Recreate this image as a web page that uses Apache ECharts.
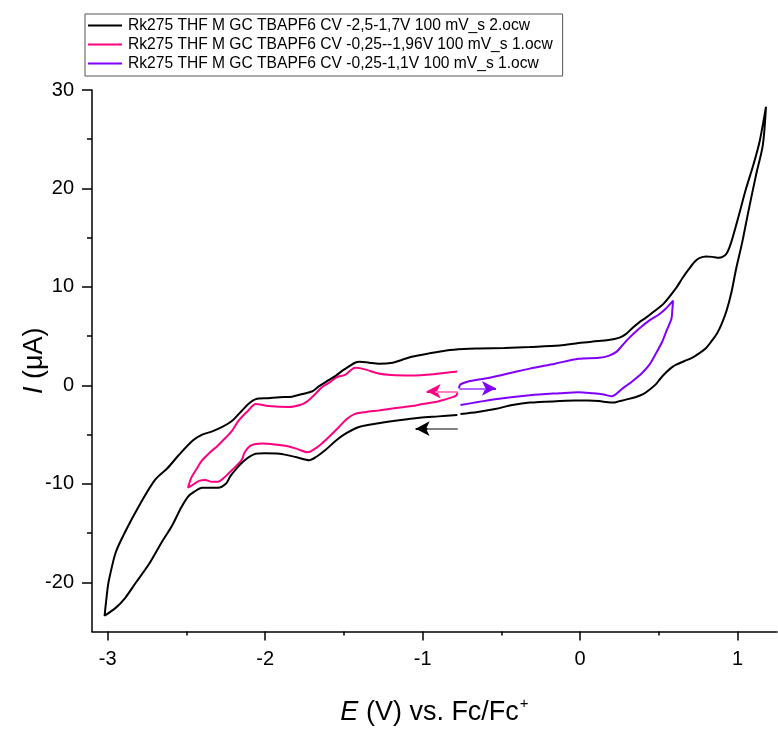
<!DOCTYPE html>
<html>
<head>
<meta charset="utf-8">
<script src="https://cdn.jsdelivr.net/npm/echarts@6/dist/echarts.min.js"></script>
<style>
  html, body { margin: 0; padding: 0; background: #fff; }
  #chart { width: 778px; height: 731px; }
</style>
</head>
<body>
<div id="chart"></div>
<script>
// Cyclic voltammograms, potential E (V vs. Fc/Fc+) against current I (µA)
const seriesNames = [
  'Rk275 THF M GC TBAPF6 CV -2,5-1,7V 100 mV_s 2.ocw',
  'Rk275 THF M GC TBAPF6 CV -0,25--1,96V 100 mV_s 1.ocw',
  'Rk275 THF M GC TBAPF6 CV -0,25-1,1V 100 mV_s 1.ocw'
];

// full window scan, starting at -0.78 V going negative
const blackScan = [
  [-0.78,-3.0],[-0.90,-3.15],[-1.02,-3.3],[-1.15,-3.55],[-1.28,-3.85],[-1.40,-4.2],[-1.49,-4.9],
  [-1.55,-5.6],[-1.62,-6.6],[-1.67,-7.2],[-1.72,-7.6],[-1.80,-7.3],[-1.91,-6.95],[-2.00,-6.9],
  [-2.06,-6.95],[-2.13,-7.6],[-2.18,-8.4],[-2.22,-9.2],[-2.25,-10.0],[-2.30,-10.4],[-2.36,-10.4],
  [-2.40,-10.4],[-2.45,-10.8],[-2.49,-11.3],[-2.54,-12.6],[-2.59,-14.2],[-2.66,-16.0],[-2.74,-18.2],
  [-2.82,-20.0],[-2.89,-21.6],[-2.95,-22.6],[-3.02,-23.4],
  [-3.00,-20.5],[-2.99,-19.6],[-2.95,-17.0],[-2.89,-14.9],[-2.80,-12.2],[-2.70,-9.6],[-2.62,-8.4],
  [-2.55,-7.1],[-2.46,-5.6],[-2.40,-5.0],[-2.34,-4.7],[-2.27,-4.2],[-2.21,-3.6],[-2.15,-2.6],
  [-2.10,-1.8],[-2.06,-1.4],[-1.98,-1.3],[-1.91,-1.2],[-1.83,-1.15],[-1.77,-0.9],[-1.70,-0.6],
  [-1.66,-0.1],[-1.60,0.5],[-1.55,1.0],[-1.50,1.6],[-1.47,1.9],[-1.43,2.3],[-1.40,2.4],[-1.34,2.3],
  [-1.28,2.2],[-1.19,2.3],[-1.13,2.6],[-1.07,2.9],[-0.96,3.25],[-0.85,3.55],[-0.74,3.7],
  [-0.64,3.75],[-0.48,3.8],[-0.32,3.9],[-0.13,4.05],[-0.01,4.3],[0.08,4.45],[0.18,4.6],[0.25,4.85],
  [0.29,5.2],[0.33,5.8],[0.375,6.4],[0.42,6.9],[0.46,7.4],[0.53,8.3],[0.61,9.9],[0.65,10.9],
  [0.69,11.8],[0.73,12.6],[0.76,12.95],[0.80,13.1],[0.84,13.05],[0.88,12.95],[0.91,13.1],
  [0.93,13.4],[0.95,14.1],[0.97,15.1],[1.01,17.4],[1.05,19.8],[1.10,22.4],[1.14,24.8],[1.18,28.3],
  [1.16,24.4],[1.12,21.6],[1.07,17.8],[1.03,14.6],[0.99,11.8],[0.96,9.4],[0.93,7.6],[0.90,6.3],
  [0.87,5.3],[0.83,4.4],[0.80,3.8],[0.76,3.3],[0.71,2.8],[0.66,2.45],[0.61,2.1],[0.58,1.8],
  [0.545,1.3],[0.51,0.7],[0.48,0.1],[0.44,-0.45],[0.40,-0.9],[0.35,-1.2],[0.29,-1.45],[0.25,-1.6],
  [0.21,-1.75],[0.17,-1.7],[0.12,-1.6],[0.05,-1.55],[-0.03,-1.55],[-0.13,-1.6],[-0.32,-1.75],
  [-0.43,-2.0],[-0.54,-2.4],[-0.65,-2.7],[-0.76,-2.9]
];

// reduction window scan
const pinkScan = [
  [-0.78,-0.7],[-0.785,-1.0],[-0.81,-1.2],[-0.86,-1.45],[-0.92,-1.7],[-1.00,-1.9],[-1.07,-2.1],
  [-1.17,-2.3],[-1.28,-2.55],[-1.36,-2.7],[-1.43,-2.9],[-1.48,-3.4],[-1.53,-4.2],[-1.58,-5.0],
  [-1.64,-5.9],[-1.69,-6.5],[-1.73,-6.8],[-1.79,-6.5],[-1.85,-6.2],[-1.94,-6.0],[-2.02,-5.9],
  [-2.09,-6.1],[-2.13,-6.8],[-2.15,-7.6],[-2.21,-8.6],[-2.23,-8.9],[-2.27,-9.5],[-2.30,-9.8],
  [-2.34,-9.8],[-2.38,-9.6],[-2.42,-9.7],[-2.46,-10.1],[-2.49,-10.4],
  [-2.47,-9.4],[-2.44,-8.6],[-2.40,-7.6],[-2.35,-6.8],[-2.30,-6.1],[-2.25,-5.3],[-2.21,-4.6],
  [-2.17,-3.6],[-2.11,-2.6],[-2.06,-1.9],[-1.98,-2.1],[-1.85,-2.2],[-1.78,-2.0],[-1.74,-1.7],
  [-1.69,-1.0],[-1.64,-0.2],[-1.59,0.3],[-1.55,0.8],[-1.49,1.1],[-1.46,1.5],[-1.43,1.8],
  [-1.40,1.75],[-1.36,1.6],[-1.28,1.2],[-1.20,1.05],[-1.07,1.0],[-0.92,1.15],[-0.78,1.4]
];

// oxidation window scan
const violetScan = [
  [-0.77,-0.3],[-0.76,0.1],[-0.71,0.4],[-0.62,0.65],[-0.54,0.9],[-0.43,1.3],[-0.32,1.7],
  [-0.16,2.2],[-0.01,2.7],[0.12,2.8],[0.18,3.0],[0.23,3.4],[0.27,4.1],[0.31,4.8],[0.37,5.7],
  [0.44,6.6],[0.50,7.2],[0.545,7.8],[0.59,8.6],
  [0.585,7.6],[0.58,6.8],[0.55,5.6],[0.52,4.4],[0.48,3.2],[0.44,2.1],[0.39,1.2],[0.33,0.4],
  [0.27,-0.3],[0.20,-1.1],[0.14,-0.9],[0.08,-0.8],[-0.01,-0.7],[-0.13,-0.8],[-0.32,-1.0],
  [-0.54,-1.4],[-0.65,-1.7],[-0.76,-2.0]
];

// scan direction arrows: [fromE, toE, I]
const scanArrows = [
  [-0.78, -1.045, -4.4],
  [-0.78, -0.975, -0.6],
  [-0.765, -0.535, -0.3]
];

const lineColors = ['#000000', '#ff0080', '#8000ff'];
const shaftColors = ['#808080', '#ff7fbf', '#b266ff'];

const xMajorTicks = [-3, -2, -1, 0, 1];
const xMinorTicks = [-2.5, -1.5, -0.5, 0.5];
const yMajorTicks = [-20, -10, 0, 10, 20, 30];
const yMinorTicks = [-15, -5, 5, 15, 25];

const FONT = '"Liberation Sans", Arial, sans-serif';

function arrowLines(i) {
  const a = scanArrows[i];
  const span = a[1] - a[0];
  const shaftEnd = a[0] + span * 0.72;
  return {
    silent: true,
    animation: false,
    symbolSize: [11, 14],
    label: { show: false },
    emphasis: { disabled: true },
    data: [
      [
        { coord: [a[0], a[2]], symbol: 'none', lineStyle: { color: lineColors[i], width: 2, type: 'solid' } },
        { coord: [a[1], a[2]], symbol: 'arrow' }
      ],
      [
        { coord: [a[0], a[2]], symbol: 'none', lineStyle: { color: shaftColors[i], width: 2, type: 'solid' } },
        { coord: [shaftEnd, a[2]], symbol: 'none' }
      ]
    ]
  };
}

const scans = [blackScan, pinkScan, violetScan];

const series = scans.map((d, i) => ({
  name: seriesNames[i],
  type: 'line',
  data: d,
  showSymbol: false,
  symbol: 'none',
  smooth: 0.3,
  lineStyle: { color: lineColors[i], width: 2 },
  itemStyle: { color: lineColors[i] },
  animation: false,
  markLine: arrowLines(i),
  z: 3 - i
}));

const chart = echarts.init(document.getElementById('chart'), null, { renderer: 'canvas' });

const xRange = { min: -3.1, max: 1.25 };
const yRange = { min: -25, max: 30 };

chart.setOption({
  backgroundColor: '#ffffff',
  animation: false,
  textStyle: { fontFamily: FONT },
  grid: { left: 92, right: 1, top: 90, bottom: 91, containLabel: false },
  legend: {
    orient: 'vertical',
    left: 85,
    top: 14,
    padding: [3, 10, 4, 3],
    borderColor: '#555',
    borderWidth: 1,
    icon: 'rect',
    itemWidth: 34,
    itemHeight: 2,
    itemGap: 2,
    selectedMode: false,
    textStyle: { fontFamily: FONT, fontSize: 15.6, color: '#000', lineHeight: 17, padding: [0, 0, 0, 1] },
    data: seriesNames
  },
  xAxis: [
    {
      type: 'value', ...xRange,
      name: '{i|E} (V) vs. Fc/Fc{sup|+}',
      nameLocation: 'middle',
      nameGap: 65,
      nameMoveOverlap: false,
      nameTextStyle: {
        fontFamily: FONT, fontSize: 27, color: '#000',
        rich: {
          i: { fontFamily: FONT, fontSize: 27, fontStyle: 'italic', color: '#000' },
          sup: { fontFamily: FONT, fontSize: 15, color: '#000', verticalAlign: 'top', lineHeight: 32, padding: [0, 0, 0, 1] }
        }
      },
      axisLine: { show: true, onZero: false, lineStyle: { color: '#000', width: 1.5 } },
      axisTick: { show: true, inside: false, length: 9, customValues: xMajorTicks, lineStyle: { color: '#000', width: 1.5 } },
      axisLabel: { show: true, customValues: xMajorTicks, margin: 18, fontFamily: FONT, fontSize: 20, color: '#000' },
      splitLine: { show: false }
    },
    {
      type: 'value', ...xRange,
      position: 'bottom', offset: 0,
      axisLine: { show: false, onZero: false },
      axisTick: { show: true, inside: false, length: 4, customValues: xMinorTicks, lineStyle: { color: '#000', width: 1.5 } },
      axisLabel: { show: false },
      splitLine: { show: false }
    }
  ],
  yAxis: [
    {
      type: 'value', ...yRange,
      name: '{i|I} (μA)',
      nameLocation: 'middle',
      nameGap: 44,
      nameRotate: 90,
      nameMoveOverlap: false,
      nameTextStyle: {
        fontFamily: FONT, fontSize: 27, color: '#000',
        rich: { i: { fontFamily: FONT, fontSize: 27, fontStyle: 'italic', color: '#000' } }
      },
      axisLine: { show: true, onZero: false, lineStyle: { color: '#000', width: 1.5 } },
      axisTick: { show: true, inside: false, length: 10, customValues: yMajorTicks, lineStyle: { color: '#000', width: 1.5 } },
      axisLabel: { show: true, customValues: yMajorTicks, margin: 18, fontFamily: FONT, fontSize: 20, color: '#000' },
      splitLine: { show: false }
    },
    {
      type: 'value', ...yRange,
      position: 'left', offset: 0,
      axisLine: { show: false, onZero: false },
      axisTick: { show: true, inside: false, length: 5, customValues: yMinorTicks, lineStyle: { color: '#000', width: 1.5 } },
      axisLabel: { show: false },
      splitLine: { show: false }
    }
  ],
  series: series
});
</script>
</body>
</html>
